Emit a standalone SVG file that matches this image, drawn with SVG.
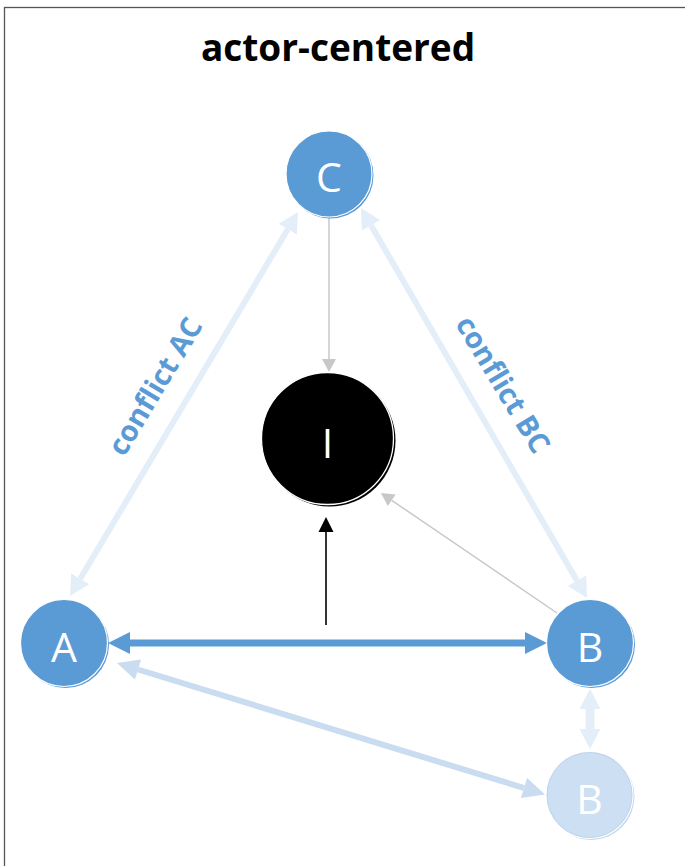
<svg xmlns="http://www.w3.org/2000/svg" width="685" height="866" viewBox="0 0 685 866">
<style>
.title{font-family:"Open Sans","Liberation Sans",sans-serif;font-weight:bold;font-size:37px;fill:#000;text-anchor:middle}
.lbl{font-family:"Open Sans","Liberation Sans",sans-serif;font-size:41px;fill:#fff;text-anchor:middle}
.clbl{font-family:"Open Sans","Liberation Sans",sans-serif;font-weight:bold;font-size:29px;fill:#5b9bd5;text-anchor:middle}
.blue{fill:#5b9bd5}
.pale{fill:#cddff2}
.edge{stroke:#fff;stroke-width:1.2}
</style>
<defs>
<marker id="mBlue" markerUnits="userSpaceOnUse" markerWidth="24" markerHeight="24" viewBox="0 -12 24 24" refX="0" refY="0" orient="auto-start-reverse" overflow="visible"><path d="M0,-11 L22,0 L0,11 z" fill="#5b9bd5"/></marker>
<marker id="mPale" markerUnits="userSpaceOnUse" markerWidth="24" markerHeight="24" viewBox="0 -12 24 24" refX="0" refY="0" orient="auto-start-reverse" overflow="visible"><path d="M0,-10.5 L20,0 L0,10.5 z" fill="#e4eef9"/></marker>
<marker id="mLight" markerUnits="userSpaceOnUse" markerWidth="24" markerHeight="24" viewBox="0 -12 24 24" refX="0" refY="0" orient="auto-start-reverse" overflow="visible"><path d="M0,-10.5 L22,0 L0,10.5 z" fill="#c9dcf0"/></marker>
<marker id="mGray" markerUnits="userSpaceOnUse" markerWidth="16" markerHeight="16" viewBox="0 -8 16 16" refX="0" refY="0" orient="auto" overflow="visible"><path d="M0,-7 L13,0 L0,7 z" fill="#c8c8c8"/></marker>
<marker id="mBlack" markerUnits="userSpaceOnUse" markerWidth="16" markerHeight="16" viewBox="0 -8 16 16" refX="0" refY="0" orient="auto" overflow="visible"><path d="M0,-7.5 L15,0 L0,7.5 z" fill="#000"/></marker>
</defs>
<rect x="0" y="0" width="685" height="866" fill="#fff"/>
<rect x="4.5" y="7.5" width="720" height="900" fill="none" stroke="#555" stroke-width="1.3"/>
<text class="title" x="338" y="61">actor-centered</text>

<g id="connectors" fill="none">
  <line x1="80.2" y1="578.8" x2="287.8" y2="229.2" stroke="#e4eef9" stroke-width="6" marker-start="url(#mPale)" marker-end="url(#mPale)"/>
  <line x1="371" y1="225.3" x2="577" y2="580.7" stroke="#e4eef9" stroke-width="6" marker-start="url(#mPale)" marker-end="url(#mPale)"/>
  <line x1="590" y1="709" x2="590" y2="729" stroke="#e4eef9" stroke-width="9" marker-start="url(#mPale)" marker-end="url(#mPale)"/>
  <line x1="138" y1="669.5" x2="524" y2="788" stroke="#c9dcf0" stroke-width="6" marker-start="url(#mLight)" marker-end="url(#mLight)"/>
  <line x1="130" y1="643" x2="525" y2="643" stroke="#5b9bd5" stroke-width="7" marker-start="url(#mBlue)" marker-end="url(#mBlue)"/>
  <line x1="329" y1="217" x2="329" y2="359" stroke="#c8c8c8" stroke-width="1.5" marker-end="url(#mGray)"/>
  <line x1="557" y1="613" x2="391.7" y2="500.3" stroke="#c8c8c8" stroke-width="1.5" marker-end="url(#mGray)"/>
  <line x1="326" y1="625" x2="326" y2="532" stroke="#000" stroke-width="1.6" marker-end="url(#mBlack)"/>
  <text class="clbl" transform="translate(156,387) rotate(-59)" y="9">conflict AC</text>
  <text class="clbl" transform="translate(502,385) rotate(59)" y="9">conflict BC</text>
</g>

<g id="node-C">
  <circle class="blue" cx="330.5" cy="175.5" r="43"/>
  <circle class="blue edge" cx="329" cy="174" r="43"/>
  <text class="lbl" x="329" y="192">C</text>
</g>
<g id="node-I">
  <circle cx="329.5" cy="440.5" r="66" fill="#000"/>
  <circle cx="327.5" cy="438.5" r="66" fill="#000" stroke="#fff" stroke-width="1.3"/>
  <text class="lbl" x="327.5" y="458">I</text>
</g>
<g id="node-A">
  <circle class="blue" cx="65.5" cy="644.5" r="43.5"/>
  <circle class="blue edge" cx="64" cy="643" r="43.5"/>
  <text class="lbl" x="64" y="662">A</text>
</g>
<g id="node-B">
  <circle class="blue" cx="591.5" cy="644.5" r="43.5"/>
  <circle class="blue edge" cx="590" cy="643" r="43.5"/>
  <text class="lbl" x="590" y="662">B</text>
</g>
<g id="node-B2">
  <circle cx="591" cy="796.5" r="43.5" fill="#c2d8ef"/>
  <circle class="pale edge" cx="589.5" cy="795" r="43.5"/>
  <circle cx="589.5" cy="795" r="42.5" fill="none" stroke="#b9d2ec" stroke-width="0.8"/>
  <text class="lbl" x="589.5" y="814">B</text>
</g>
</svg>
